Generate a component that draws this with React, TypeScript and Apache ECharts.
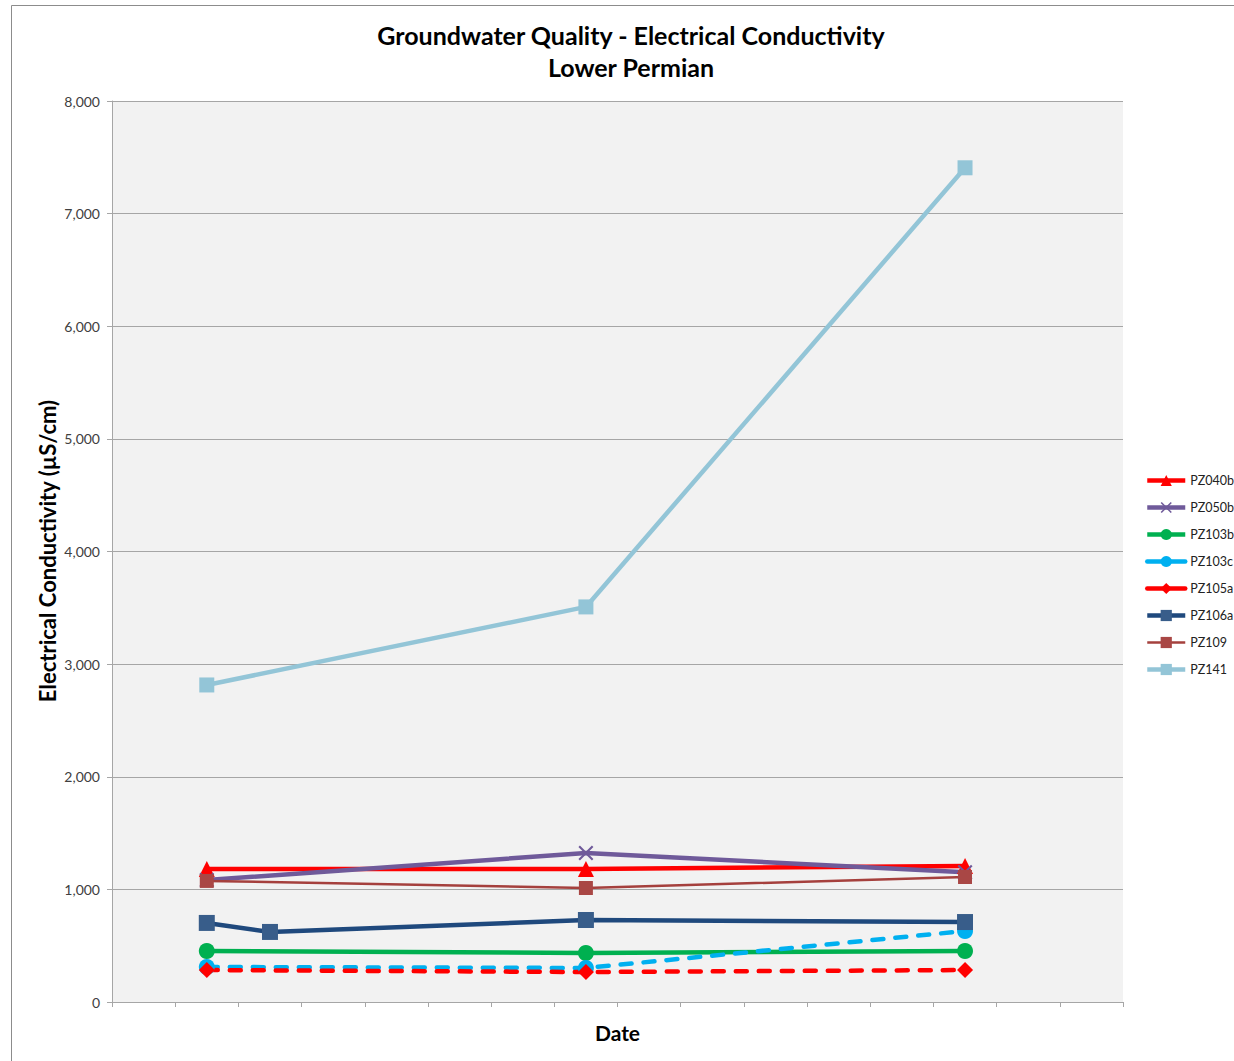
import React, { useEffect, useRef } from "react";
import * as echarts from "echarts";

const seriesNames = ["PZ040b", "PZ050b", "PZ103b", "PZ103c", "PZ105a", "PZ106a", "PZ109", "PZ141"];
// x positions are in tick units along the unlabeled Date axis
const pz040b = [[1.5, 1181], [7.5, 1181], [13.5, 1208]];
const pz050b = [[1.5, 1083], [7.5, 1323], [13.5, 1152]];
const pz103b = [[1.5, 453], [7.5, 435], [13.5, 453]];
const pz103c = [[1.5, 311], [7.5, 302], [13.5, 630]];
const pz105a = [[1.5, 284], [7.5, 266], [13.5, 284]];
const pz106a = [[1.5, 702], [2.5, 622], [7.5, 728], [13.5, 710]];
const pz109 = [[1.5, 1075], [7.5, 1012], [13.5, 1110]];
const pz141 = [[1.5, 2815], [7.5, 3508], [13.5, 7407]];

const FONT = "Lato";
const X_ICON = "path://M0,1L1,0L5,4L9,0L10,1L6,5L10,9L9,10L5,6L1,10L0,9L4,5Z";

export default function App() {
  const ref = useRef<HTMLDivElement>(null);
  useEffect(() => {
    document.body.style.margin = "0";
    const chart = echarts.init(ref.current!, null, { renderer: "svg" });
    const dash = [11, 12];
    const widths: Record<string, number> = {};
    const mk = (name: string, data: number[][], color: string, symbol: string, size: number, width: number, dashed = false, markerColor?: string) => {
      widths[name] = width;
      return {
        name,
        type: "line",
        data,
        symbol,
        symbolSize: size,
        showSymbol: true,
        lineStyle: { color, width, type: dashed ? dash : "solid", cap: dashed ? "round" : "butt" },
        itemStyle: { color: markerColor || color, borderWidth: 0 },
        emphasis: { disabled: true },
      };
    };
    const series = [
      mk("PZ040b", pz040b, "#ff0000", "triangle", 16, 4.5),
      mk("PZ050b", pz050b, "#6f5a9a", X_ICON, 15, 4.5),
      mk("PZ103b", pz103b, "#00b050", "circle", 16, 4.5),
      mk("PZ103c", pz103c, "#00b0f0", "circle", 16, 4.5, true),
      mk("PZ105a", pz105a, "#ff0000", "diamond", 16, 4.5, true),
      mk("PZ106a", pz106a, "#1f497d", "rect", 16, 4.5, false, "#385d8a"),
      mk("PZ109", pz109, "#a5403d", "rect", 14, 2.5, false, "#a94745"),
      mk("PZ141", pz141, "#93c5d7", "rect", 15, 4.5, false, "#93c5d7"),
    ];
    chart.setOption({
      animation: false,
      textStyle: { fontFamily: FONT },
      grid: { left: 112, top: 101, width: 1011, height: 901, show: true, backgroundColor: "#f2f2f2", borderWidth: 0 },
      graphic: [
        { type: "rect", shape: { x: 11.5, y: 5.5, width: 1240, height: 1070 }, style: { fill: "none", stroke: "#8c8c8c", lineWidth: 1 }, silent: true, z: -10 },
        { type: "text", x: 631, y: 35, style: { text: "Groundwater Quality - Electrical Conductivity", font: `bold 25px ${FONT}`, fill: "#000", align: "center", verticalAlign: "middle" } },
        { type: "text", x: 631, y: 67, style: { text: "Lower Permian", font: `bold 25px ${FONT}`, fill: "#000", align: "center", verticalAlign: "middle" } },
        { type: "text", x: 47, y: 551, rotation: Math.PI / 2, style: { text: "Electrical Conductivity (µS/cm)", font: `bold 22px ${FONT}`, fill: "#000", align: "center", verticalAlign: "middle" } },
      ],
      legend: {
        orient: "vertical",
        left: 1145,
        top: 474,
        padding: 0,
        itemWidth: 38,
        itemHeight: 14,
        itemGap: 14,
        textStyle: { fontFamily: FONT, fontSize: 12.5, color: "#222" },
        data: seriesNames.map((n) => ({ name: n, lineStyle: { width: widths[n], type: "solid" } })),
      },
      xAxis: {
        type: "value",
        min: 0,
        max: 16,
        interval: 1,
        name: "Date",
        nameLocation: "middle",
        nameGap: 20,
        nameTextStyle: { fontFamily: FONT, fontSize: 21, fontWeight: "bold", color: "#000" },
        axisLine: { show: true, lineStyle: { color: "#a6a6a6", width: 1 } },
        axisTick: { show: true, length: 5, lineStyle: { color: "#a6a6a6" } },
        axisLabel: { show: false },
        splitLine: { show: false },
      },
      yAxis: {
        type: "value",
        min: 0,
        max: 8000,
        interval: 1000,
        axisLine: { show: true, lineStyle: { color: "#a6a6a6", width: 1 } },
        axisTick: { show: true, length: 5, lineStyle: { color: "#a6a6a6" } },
        axisLabel: {
          fontFamily: FONT,
          fontSize: 14,
          color: "#404040",
          margin: 12,
          formatter: (v: number) => v.toLocaleString("en-US"),
        },
        splitLine: { show: true, lineStyle: { color: "#a6a6a6", width: 1 } },
      },
      series,
    });
    return () => chart.dispose();
  }, []);
  return <div ref={ref} style={{ position: "absolute", left: 0, top: 0, width: 1234, height: 1061 }} />;
}
